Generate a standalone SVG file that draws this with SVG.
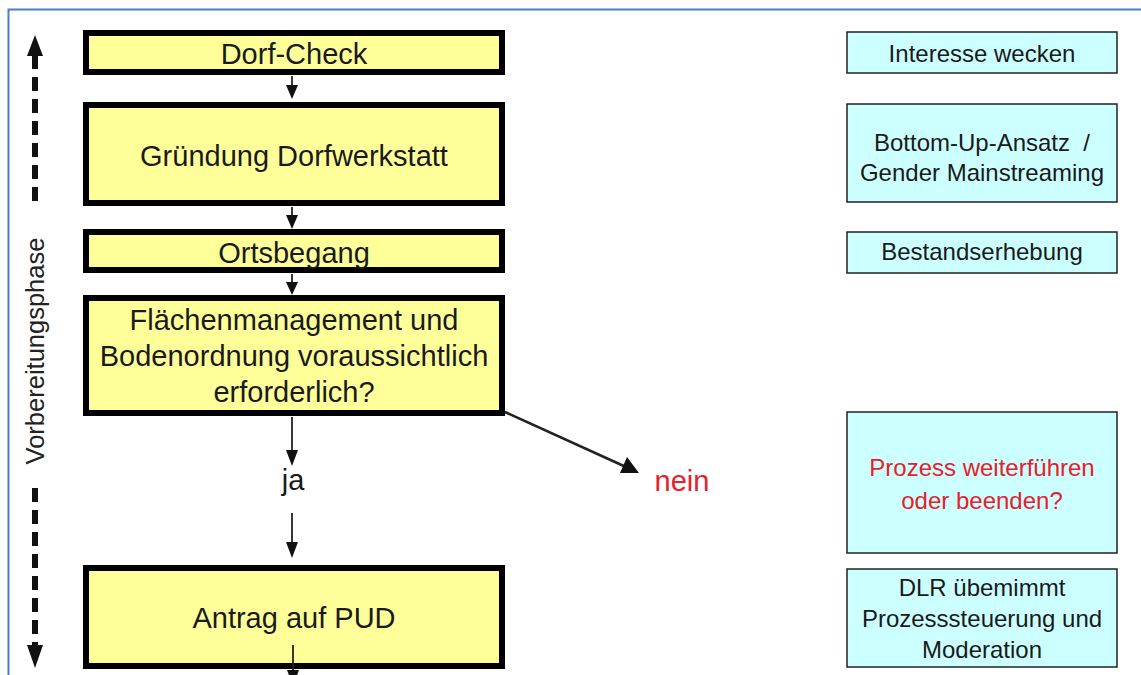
<svg xmlns="http://www.w3.org/2000/svg" width="1141" height="675" viewBox="0 0 1141 675">
<style>
.y{fill:#ffff99;stroke:#000;stroke-width:6}
.c{fill:#ccffff;stroke:#222;stroke-width:1.5}
.t{font-family:"Liberation Sans",Arial,sans-serif;font-size:29px;fill:#1a1a1a;text-anchor:middle}
.s{font-family:"Liberation Sans",Arial,sans-serif;font-size:24px;fill:#1a1a1a;text-anchor:middle}
.ln{stroke:#222;stroke-width:1.8;fill:none}
.hd{fill:#111}
.dash{stroke:#111;stroke-width:6;stroke-dasharray:14 8;fill:none}
</style>
<rect x="0" y="0" width="1141" height="675" fill="#fff"/>
<path d="M8.5 700 V9.5 H1141" fill="none" stroke="#4a7fc1" stroke-width="2"/>

<g id="phase">
<line class="dash" x1="35" y1="55" x2="35" y2="206"/>
<polygon class="hd" points="35,35 27,56 43,56"/>
<line class="dash" x1="35" y1="488" x2="35" y2="648"/>
<polygon class="hd" points="35,668 27,645 43,645"/>
<text transform="translate(44,351) rotate(-90)" font-family="Liberation Sans,Arial,sans-serif" font-size="25.5" fill="#222" text-anchor="middle">Vorbereitungsphase</text>
</g>

<g id="dorfcheck"><rect class="y" x="86" y="33" width="416" height="39"/><text class="t" x="294" y="64">Dorf-Check</text></g>
<g id="gruendung"><rect class="y" x="86" y="105" width="416" height="98"/><text class="t" x="294" y="166">Gründung Dorfwerkstatt</text></g>
<g id="ortsbegang"><rect class="y" x="86" y="232" width="416" height="38"/><text class="t" x="294" y="263">Ortsbegang</text></g>
<g id="flaechen"><rect class="y" x="86" y="298" width="416" height="115"/>
<text class="t" x="294" y="330">Flächenmanagement und</text>
<text class="t" x="294" y="366">Bodenordnung voraussichtlich</text>
<text class="t" x="294" y="402">erforderlich?</text></g>
<g id="antrag"><rect class="y" x="86" y="568" width="416" height="98"/><text class="t" x="294" y="628">Antrag auf PUD</text></g>

<g id="ja"><text class="t" x="293" y="490" fill="#1a1a2e">ja</text></g>
<g id="nein"><text class="t" x="682" y="491" style="fill:#e8202a">nein</text></g>

<g id="interesse"><rect class="c" x="847" y="32" width="270" height="41"/><text class="s" x="982" y="62">Interesse wecken</text></g>
<g id="bottomup"><rect class="c" x="847" y="104" width="270" height="98"/><text class="s" x="982" y="151" xml:space="preserve">Bottom-Up-Ansatz  /</text><text class="s" x="982" y="181">Gender Mainstreaming</text></g>
<g id="bestand"><rect class="c" x="847" y="232" width="270" height="41"/><text class="s" x="982" y="260">Bestandserhebung</text></g>
<g id="prozess"><rect class="c" x="847" y="412" width="270" height="141"/><text class="s" x="982" y="476" style="fill:#e8202a">Prozess weiterführen</text><text class="s" x="982" y="509" style="fill:#e8202a">oder beenden?</text></g>
<g id="dlr"><rect class="c" x="847" y="569" width="270" height="98"/><text class="s" x="982" y="596">DLR übemimmt</text><text class="s" x="982" y="627">Prozesssteuerung und</text><text class="s" x="982" y="658">Moderation</text></g>

<g id="connectors">
<line class="ln" x1="292" y1="76" x2="292" y2="86"/><polygon class="hd" points="292,99 286,85 298,85"/>
<line class="ln" x1="292" y1="207" x2="292" y2="216"/><polygon class="hd" points="292,229 286,215 298,215"/>
<line class="ln" x1="292" y1="274" x2="292" y2="283"/><polygon class="hd" points="292,295 286,282 298,282"/>
<line class="ln" x1="292" y1="417" x2="292" y2="452"/><polygon class="hd" points="292,466 286,450 298,450"/>
<line class="ln" x1="292" y1="513" x2="292" y2="544"/><polygon class="hd" points="292,558 286,542 298,542"/>
<line class="ln" x1="505" y1="412" x2="626" y2="467" style="stroke-width:2.6"/><polygon class="hd" points="639,473 620,473 627,457"/>
<line class="ln" x1="293" y1="645" x2="293" y2="675"/><polygon class="hd" points="293,686 287,670 299,670"/>
</g>
</svg>
